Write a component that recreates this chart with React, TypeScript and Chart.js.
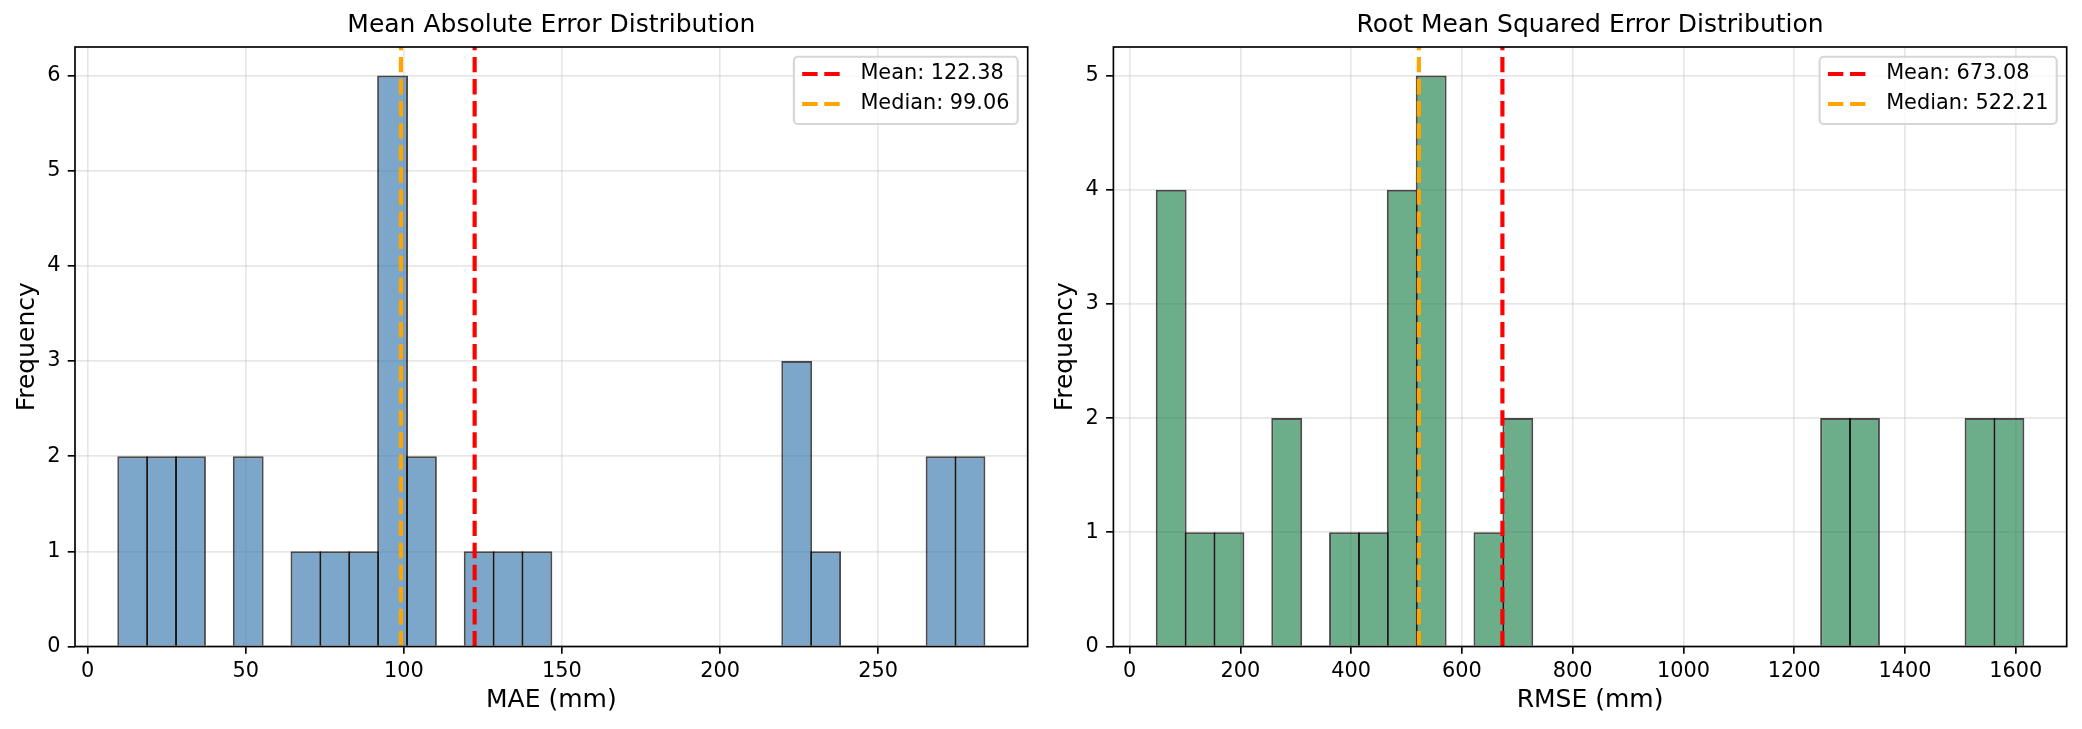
import React, { useEffect, useRef } from 'react';
import { Chart, registerables } from 'chart.js';

Chart.register(...registerables);

// ---------- data ----------
const maeTitle = 'Mean Absolute Error Distribution';
const maeXLabel = 'MAE (mm)';
const maeCounts = [2, 2, 2, 0, 2, 0, 1, 1, 1, 6, 2, 0, 1, 1, 1, 0, 0, 0, 0, 0, 0, 0, 0, 3, 1, 0, 0, 0, 2, 2];
const maeBinMin = 9.68;
const maeBinMax = 283.6;
const maeMean = 122.38;
const maeMedian = 99.06;
const maeXTicks = [0, 50, 100, 150, 200, 250];
const maeYTicks = [0, 1, 2, 3, 4, 5, 6];

const rmseTitle = 'Root Mean Squared Error Distribution';
const rmseXLabel = 'RMSE (mm)';
const rmseCounts = [4, 1, 1, 0, 2, 0, 1, 1, 4, 5, 0, 1, 2, 0, 0, 0, 0, 0, 0, 0, 0, 0, 0, 2, 2, 0, 0, 0, 2, 2];
const rmseBinMin = 48.8;
const rmseBinMax = 1613.9;
const rmseMean = 673.08;
const rmseMedian = 522.21;
const rmseXTicks = [0, 200, 400, 600, 800, 1000, 1200, 1400, 1600];
const rmseYTicks = [0, 1, 2, 3, 4, 5];

const yLabel = 'Frequency';

// ---------- styling ----------
const FONT = "'DejaVu Sans', 'Liberation Sans', sans-serif";
const PT = 150 / 72;
const W = 1041;
const H = 729;

const frameLegendPlugin = {
  id: 'frameLegend',
  afterDraw(chart: any) {
    const { ctx, chartArea: a } = chart;
    ctx.save();
    // spines
    ctx.strokeStyle = '#000';
    ctx.lineWidth = 0.8 * PT;
    ctx.setLineDash([]);
    ctx.strokeRect(a.left, a.top, a.right - a.left, a.bottom - a.top);

    // legend
    const items = chart.data.datasets
      .filter((d: any) => d.type === 'line')
      .map((d: any) => ({ label: d.label, color: d.borderColor, dash: d.borderDash, lw: d.borderWidth }));
    const fs = 10 * PT;
    ctx.font = `${fs}px ${FONT}`;
    const textW = Math.max(...items.map((i: any) => ctx.measureText(i.label).width));
    const bw = 66.5 + textW + 8.3;
    const bh = 67.3;
    const bx = a.right - 10 - bw;
    const by = a.top + 9.7;
    const r = 4;
    ctx.beginPath();
    ctx.moveTo(bx + r, by);
    ctx.lineTo(bx + bw - r, by);
    ctx.arcTo(bx + bw, by, bx + bw, by + r, r);
    ctx.lineTo(bx + bw, by + bh - r);
    ctx.arcTo(bx + bw, by + bh, bx + bw - r, by + bh, r);
    ctx.lineTo(bx + r, by + bh);
    ctx.arcTo(bx, by + bh, bx, by + bh - r, r);
    ctx.lineTo(bx, by + r);
    ctx.arcTo(bx, by, bx + r, by, r);
    ctx.closePath();
    ctx.fillStyle = 'rgba(255,255,255,0.8)';
    ctx.fill();
    ctx.strokeStyle = 'rgba(204,204,204,0.8)';
    ctx.lineWidth = 1 * PT;
    ctx.stroke();

    items.forEach((it: any, k: number) => {
      const y = by + 17.3 + k * 30;
      ctx.beginPath();
      ctx.setLineDash(it.dash);
      ctx.lineDashOffset = 0;
      ctx.strokeStyle = it.color;
      ctx.lineWidth = it.lw;
      ctx.moveTo(bx + 8.3, y);
      ctx.lineTo(bx + 8.3 + 41.6, y);
      ctx.stroke();
      ctx.setLineDash([]);
      ctx.fillStyle = '#000';
      ctx.textAlign = 'left';
      ctx.textBaseline = 'middle';
      ctx.fillText(it.label, bx + 66.5, y);
    });
    ctx.restore();
  },
};

function buildConfig(opts: {
  title: string;
  xLabel: string;
  counts: number[];
  binMin: number;
  binMax: number;
  mean: number;
  median: number;
  xTicks: number[];
  yTicks: number[];
  fill: string;
  yAxisWidth: number;
  rightPad: number;
  yTitlePad: number;
}) {
  const n = opts.counts.length;
  const bw = (opts.binMax - opts.binMin) / n;
  const bars = opts.counts.map((c, i) => ({ x: opts.binMin + bw * (i + 0.5), y: c }));
  const span = opts.binMax - opts.binMin;
  const xMin = opts.binMin - 0.05 * span;
  const xMax = opts.binMax + 0.05 * span;
  const yMax = Math.max(...opts.counts) * 1.05;
  const plotW = W - opts.rightPad - opts.yAxisWidth;
  const binPx = (bw / (xMax - xMin)) * plotW;
  const edge = 2;
  const dash = [3.7 * 2 * PT, 1.6 * 2 * PT];
  const lw = 2 * PT;

  const gridOpts = {
    color: 'rgba(176,176,176,0.3)',
    lineWidth: 0.8 * PT,
    drawTicks: true,
    offset: false,
    tickLength: 3.5 * PT,
    tickColor: '#000',
    tickWidth: 0.8 * PT,
  };

  return {
    type: 'bar',
    data: {
      datasets: [
        {
          type: 'line',
          label: `Mean: ${opts.mean.toFixed(2)}`,
          data: [{ x: opts.mean, y: 0 }, { x: opts.mean, y: yMax }],
          borderColor: 'rgb(255,0,0)',
          borderWidth: lw,
          borderDash: dash,
          pointRadius: 0,
          order: 1,
        },
        {
          type: 'line',
          label: `Median: ${opts.median.toFixed(2)}`,
          data: [{ x: opts.median, y: 0 }, { x: opts.median, y: yMax }],
          borderColor: 'rgb(255,165,0)',
          borderWidth: lw,
          borderDash: dash,
          pointRadius: 0,
          order: 0,
        },
        {
          type: 'bar',
          label: 'counts',
          data: bars,
          backgroundColor: opts.fill,
          borderColor: 'rgba(0,0,0,0.7)',
          borderWidth: (c: any) => (c.raw && c.raw.y > 0 ? edge : 0),
          borderSkipped: 'start',
          barPercentage: (binPx + edge) / binPx,
          categoryPercentage: 1,
          order: 2,
        },
      ],
    },
    options: {
      responsive: false,
      animation: false,
      devicePixelRatio: 1,
      layout: { padding: { left: 0, right: opts.rightPad, top: 0, bottom: 0 } },
      plugins: {
        legend: { display: false },
        tooltip: { enabled: false },
        title: {
          display: true,
          text: opts.title,
          color: '#000',
          fullSize: false,
          font: { size: 12 * PT, weight: 'normal', family: FONT, lineHeight: 1.2 },
          padding: { top: 10.4, bottom: 6.6 },
        },
      },
      scales: {
        x: {
          type: 'linear',
          min: xMin,
          max: xMax,
          offset: false,
          afterBuildTicks: (s: any) => {
            s.ticks = opts.xTicks.map((v) => ({ value: v }));
          },
          afterFit: (s: any) => {
            s.height = 82.5;
          },
          border: { display: false },
          grid: gridOpts,
          ticks: {
            color: '#000',
            padding: 5.7,
            maxRotation: 0,
            autoSkip: false,
            font: { size: 10 * PT, family: FONT },
            callback: (v: any) => String(v),
          },
          title: {
            display: true,
            text: opts.xLabel,
            color: '#000',
            font: { size: 12 * PT, family: FONT, lineHeight: 1.2 },
            padding: { top: 4, bottom: 13.4 },
          },
        },
        y: {
          type: 'linear',
          min: 0,
          max: yMax,
          afterBuildTicks: (s: any) => {
            s.ticks = opts.yTicks.map((v) => ({ value: v }));
          },
          afterFit: (s: any) => {
            s.width = opts.yAxisWidth;
          },
          border: { display: false },
          grid: gridOpts,
          ticks: {
            color: '#000',
            padding: 3.5 * PT,
            autoSkip: false,
            font: { size: 10 * PT, family: FONT },
            callback: (v: any) => String(v),
          },
          title: {
            display: true,
            text: yLabel,
            color: '#000',
            font: { size: 12 * PT, family: FONT, lineHeight: 1.2 },
            padding: { top: opts.yTitlePad, bottom: 4 },
          },
        },
      },
    },
    plugins: [frameLegendPlugin],
  } as any;
}

export default function App() {
  const leftRef = useRef<HTMLCanvasElement>(null);
  const rightRef = useRef<HTMLCanvasElement>(null);

  useEffect(() => {
    const c1 = new Chart(
      leftRef.current as HTMLCanvasElement,
      buildConfig({
        title: maeTitle,
        xLabel: maeXLabel,
        counts: maeCounts,
        binMin: maeBinMin,
        binMax: maeBinMax,
        mean: maeMean,
        median: maeMedian,
        xTicks: maeXTicks,
        yTicks: maeYTicks,
        fill: 'rgba(70,130,180,0.7)',
        yAxisWidth: 75,
        rightPad: 13.3,
        yTitlePad: 12.6,
      })
    );
    const c2 = new Chart(
      rightRef.current as HTMLCanvasElement,
      buildConfig({
        title: rmseTitle,
        xLabel: rmseXLabel,
        counts: rmseCounts,
        binMin: rmseBinMin,
        binMax: rmseBinMax,
        mean: rmseMean,
        median: rmseMedian,
        xTicks: rmseXTicks,
        yTicks: rmseYTicks,
        fill: 'rgba(46,139,87,0.7)',
        yAxisWidth: 72.4,
        rightPad: 15.3,
        yTitlePad: 9.6,
      })
    );
    return () => {
      c1.destroy();
      c2.destroy();
    };
  }, []);

  return (
    <div
      style={{
        position: 'absolute',
        left: 0,
        top: 0,
        width: 2082,
        height: H,
        background: '#fff',
        display: 'flex',
      }}
    >
      <canvas ref={leftRef} width={W} height={H} style={{ width: W, height: H, display: 'block' }} />
      <canvas ref={rightRef} width={W} height={H} style={{ width: W, height: H, display: 'block' }} />
    </div>
  );
}
